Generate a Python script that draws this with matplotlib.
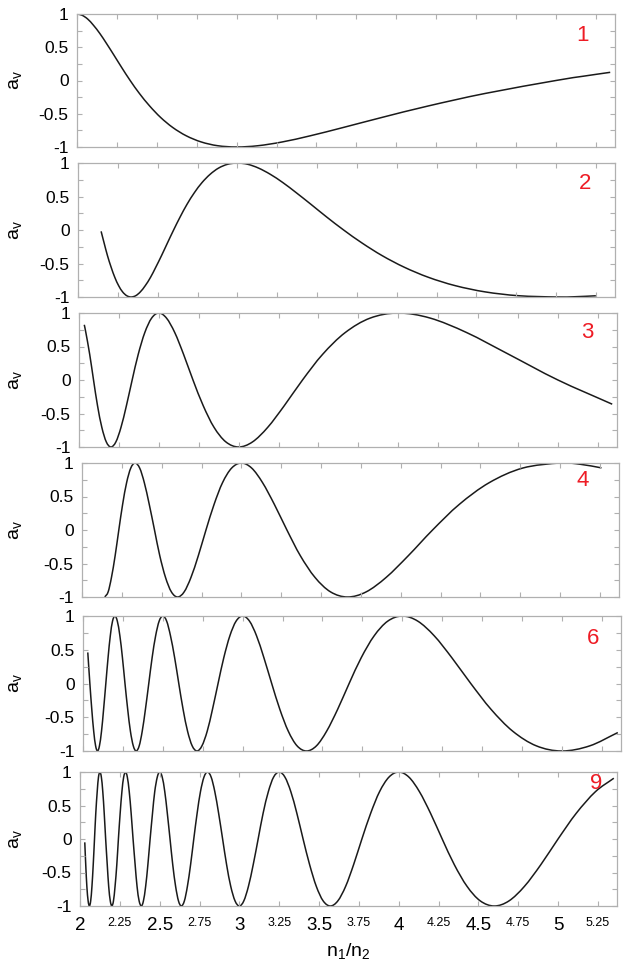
import matplotlib
matplotlib.use("Agg")
import matplotlib.pyplot as plt
from matplotlib.path import Path
from matplotlib.patches import PathPatch

plt.rcParams['font.family'] = ['Liberation Sans', 'DejaVu Sans']
plt.rcParams['mathtext.default'] = 'regular'

# ---------------- data ----------------
PANEL_LABELS = ['1', '2', '3', '4', '6', '9']

P1_X = [2.000, 2.032, 2.067, 2.103, 2.143, 2.185, 2.231, 2.280, 2.333, 2.391,
        2.455, 2.524, 2.600, 2.684, 2.778, 2.882, 3.000, 3.133, 3.286, 3.462,
        3.667, 3.909, 4.200, 4.556, 5.000, 5.170, 5.340]
P1_Y = [1.000, 0.981, 0.924, 0.831, 0.707, 0.556, 0.383, 0.195, 0.000, -0.195,
        -0.383, -0.556, -0.707, -0.831, -0.924, -0.981, -1.000, -0.981, -0.924, -0.831,
        -0.707, -0.556, -0.383, -0.195, 0.000, 0.064, 0.123]

P2_X = [2.145, 2.164, 2.185, 2.208, 2.231, 2.255, 2.280, 2.306, 2.333, 2.362,
        2.391, 2.422, 2.455, 2.488, 2.524, 2.561, 2.600, 2.641, 2.684, 2.730,
        2.778, 2.829, 2.882, 2.939, 3.000, 3.065, 3.133, 3.207, 3.286, 3.370,
        3.462, 3.560, 3.667, 3.783, 3.909, 4.048, 4.200, 4.368, 4.556, 4.765,
        5.000, 5.120, 5.250]
P2_Y = [-0.020, -0.195, -0.383, -0.556, -0.707, -0.831, -0.924, -0.981, -1.000, -0.981,
        -0.924, -0.831, -0.707, -0.556, -0.383, -0.195, 0.000, 0.195, 0.383, 0.556,
        0.707, 0.831, 0.924, 0.981, 1.000, 0.981, 0.924, 0.831, 0.707, 0.556,
        0.383, 0.195, 0.000, -0.195, -0.383, -0.556, -0.707, -0.831, -0.924, -0.981,
        -1.000, -0.996, -0.982]

P3_X = [2.033, 2.043, 2.067, 2.091, 2.116, 2.143, 2.171, 2.200,
        2.231, 2.263, 2.297, 2.333, 2.371, 2.412, 2.455, 2.500,
        2.548, 2.600, 2.655, 2.714, 2.778, 2.846, 2.920, 3.000,
        3.087, 3.182, 3.286, 3.400, 3.526, 3.667, 3.824, 4.000,
        4.200, 4.429, 4.692, 5.000, 5.340]
P3_Y = [0.824, 0.707, 0.383, 0.000, -0.383, -0.707, -0.924, -1.000,
        -0.924, -0.707, -0.383, 0.000, 0.383, 0.707, 0.924, 1.000,
        0.924, 0.707, 0.383, 0.000, -0.383, -0.707, -0.924, -1.000,
        -0.924, -0.707, -0.383, 0.000, 0.383, 0.707, 0.924, 1.000,
        0.924, 0.707, 0.383, 0.000, -0.361]

P4_X = [2.143, 2.164, 2.185, 2.208, 2.231, 2.255, 2.280, 2.306,
        2.333, 2.362, 2.391, 2.422, 2.455, 2.488, 2.524, 2.561,
        2.600, 2.641, 2.684, 2.730, 2.778, 2.829, 2.882, 2.939,
        3.000, 3.065, 3.133, 3.207, 3.286, 3.370, 3.462, 3.560,
        3.667, 3.783, 3.909, 4.048, 4.200, 4.368, 4.556, 4.765,
        5.000, 5.130, 5.260]
P4_Y = [-1.000, -0.924, -0.707, -0.383, 0.000, 0.383, 0.707, 0.924,
        1.000, 0.924, 0.707, 0.383, 0.000, -0.383, -0.707, -0.924,
        -1.000, -0.924, -0.707, -0.383, 0.000, 0.383, 0.707, 0.924,
        1.000, 0.924, 0.707, 0.383, 0.000, -0.383, -0.707, -0.924,
        -1.000, -0.924, -0.707, -0.383, 0.000, 0.383, 0.707, 0.924,
        1.000, 0.980, 0.927]

P6_X = [2.030,
        2.043, 2.055, 2.067, 2.079, 2.091, 2.103, 2.116, 2.129, 2.143, 2.157, 2.171, 2.185, 2.200,
        2.215, 2.231, 2.247, 2.263, 2.280, 2.297, 2.315, 2.333,
        2.352, 2.371, 2.391, 2.412, 2.433, 2.455, 2.477, 2.500,
        2.524, 2.548, 2.574, 2.600, 2.627, 2.655, 2.684, 2.714,
        2.745, 2.778, 2.811, 2.846, 2.882, 2.920, 2.959, 3.000,
        3.043, 3.087, 3.133, 3.182, 3.233, 3.286, 3.341, 3.400,
        3.462, 3.526, 3.595, 3.667, 3.743, 3.824, 3.909, 4.000,
        4.097, 4.200, 4.310, 4.429, 4.556, 4.692, 4.840, 5.000,
        5.174, 5.350]
P6_Y = [0.460,
        0.000, -0.383, -0.707, -0.924, -1.000, -0.924, -0.707, -0.383, 0.000, 0.383, 0.707, 0.924, 1.000,
        0.924, 0.707, 0.383, 0.000, -0.383, -0.707, -0.924, -1.000,
        -0.924, -0.707, -0.383, 0.000, 0.383, 0.707, 0.924, 1.000,
        0.924, 0.707, 0.383, 0.000, -0.383, -0.707, -0.924, -1.000,
        -0.924, -0.707, -0.383, 0.000, 0.383, 0.707, 0.924, 1.000,
        0.924, 0.707, 0.383, 0.000, -0.383, -0.707, -0.924, -1.000,
        -0.924, -0.707, -0.383, 0.000, 0.383, 0.707, 0.924, 1.000,
        0.924, 0.707, 0.383, 0.000, -0.383, -0.707, -0.924, -1.000,
        -0.924, -0.727]

P9_X = [2.030,
        2.036, 2.043, 2.051, 2.059, 2.067, 2.075, 2.083, 2.091, 2.099, 2.108, 2.116, 2.125,
        2.134, 2.143, 2.152, 2.161, 2.171, 2.180, 2.190, 2.200,
        2.210, 2.220, 2.231, 2.241, 2.252, 2.263, 2.274, 2.286,
        2.297, 2.309, 2.321, 2.333, 2.346, 2.358, 2.371, 2.385,
        2.398, 2.412, 2.426, 2.440, 2.455, 2.469, 2.485, 2.500,
        2.516, 2.532, 2.548, 2.565, 2.582, 2.600, 2.618, 2.636,
        2.655, 2.674, 2.694, 2.714, 2.735, 2.756, 2.778, 2.800,
        2.823, 2.846, 2.870, 2.895, 2.920, 2.946, 2.973, 3.000,
        3.028, 3.057, 3.087, 3.118, 3.149, 3.182, 3.215, 3.250,
        3.286, 3.323, 3.361, 3.400, 3.441, 3.483, 3.526, 3.571,
        3.618, 3.667, 3.717, 3.769, 3.824, 3.880, 3.939, 4.000,
        4.064, 4.130, 4.200, 4.273, 4.349, 4.429, 4.512, 4.600,
        4.692, 4.789, 4.892, 5.000, 5.114, 5.235,
        5.350]
P9_Y = [-0.050,
        -0.383, -0.707, -0.924, -1.000, -0.924, -0.707, -0.383, 0.000, 0.383, 0.707, 0.924, 1.000,
        0.924, 0.707, 0.383, 0.000, -0.383, -0.707, -0.924, -1.000,
        -0.924, -0.707, -0.383, 0.000, 0.383, 0.707, 0.924, 1.000,
        0.924, 0.707, 0.383, 0.000, -0.383, -0.707, -0.924, -1.000,
        -0.924, -0.707, -0.383, 0.000, 0.383, 0.707, 0.924, 1.000,
        0.924, 0.707, 0.383, 0.000, -0.383, -0.707, -0.924, -1.000,
        -0.924, -0.707, -0.383, 0.000, 0.383, 0.707, 0.924, 1.000,
        0.924, 0.707, 0.383, 0.000, -0.383, -0.707, -0.924, -1.000,
        -0.924, -0.707, -0.383, 0.000, 0.383, 0.707, 0.924, 1.000,
        0.924, 0.707, 0.383, 0.000, -0.383, -0.707, -0.924, -1.000,
        -0.924, -0.707, -0.383, 0.000, 0.383, 0.707, 0.924, 1.000,
        0.924, 0.707, 0.383, 0.000, -0.383, -0.707, -0.924, -1.000,
        -0.924, -0.707, -0.383, 0.000, 0.383, 0.707,
        0.907]

SERIES_X = [P1_X, P2_X, P3_X, P4_X, P6_X, P9_X]
SERIES_Y = [P1_Y, P2_Y, P3_Y, P4_Y, P6_Y, P9_Y]

X_TICK_LABELS = ['2', '2.25', '2.5', '2.75', '3', '3.25', '3.5', '3.75',
                 '4', '4.25', '4.5', '4.75', '5', '5.25']
Y_TICK_LABELS = ['-1', '-0.5', '0', '0.5', '1']
Y_MINOR = [-0.75, -0.25, 0.25, 0.75]

# ---------------- layout ----------------
W, H = 623, 965
# (left, right, top, bottom) in pixels for each panel
BOXES = [(77, 615, 14, 147), (78, 615, 163, 297), (79, 617, 313, 447),
         (82, 619, 463, 597), (83, 621, 616, 751), (80, 617, 772, 906)]
# red label position in axes fraction
LABEL_POS = [(0.94, 0.84), (0.944, 0.85), (0.944, 0.858),
             (0.933, 0.873), (0.948, 0.837), (0.961, 0.915)]
XMAX = 5.37
FRAME = '#b0b0b0'
RED = '#ee1c25'


def smooth_curve_path(xs, ys):
    """Smooth (Catmull-Rom style) Bezier path through the given points."""
    n = len(xs)
    tx, ty = [], []
    for i in range(n):
        a = max(i - 1, 0)
        b = min(i + 1, n - 1)
        f = 0.5 if (i > 0 and i < n - 1) else 1.0
        tx.append((xs[b] - xs[a]) * f)
        ty.append((ys[b] - ys[a]) * f)
    verts = [(xs[0], ys[0])]
    codes = [Path.MOVETO]
    for i in range(n - 1):
        verts.append((xs[i] + tx[i] / 3, ys[i] + ty[i] / 3))
        verts.append((xs[i + 1] - tx[i + 1] / 3, ys[i + 1] - ty[i + 1] / 3))
        verts.append((xs[i + 1], ys[i + 1]))
        codes += [Path.CURVE4] * 3
    return Path(verts, codes)


fig = plt.figure(figsize=(W / 100, H / 100), dpi=100)

for i, (l, r, t, b) in enumerate(BOXES):
    ax = fig.add_axes([l / W, 1 - b / H, (r - l) / W, (b - t) / H])
    curve = PathPatch(smooth_curve_path(SERIES_X[i], SERIES_Y[i]),
                      facecolor='none', edgecolor='#1a1a1a', lw=1.1,
                      transform=ax.transData)
    ax.add_patch(curve)
    ax.set_xlim(2, XMAX)
    ax.set_ylim(-1, 1)
    for s in ax.spines.values():
        s.set_color(FRAME)
        s.set_linewidth(0.9)
    ax.set_xticks([float(v) for v in X_TICK_LABELS])
    ax.set_yticks([float(v) for v in Y_TICK_LABELS])
    ax.set_yticklabels(Y_TICK_LABELS)
    ax.set_yticks(Y_MINOR, minor=True)
    ax.tick_params(which='both', direction='in', length=3.5, width=0.8,
                   color=FRAME, top=True, right=True, labelsize=12.5, pad=6)
    ax.set_ylabel('a$_v$', fontsize=14)
    ax.yaxis.set_label_coords((24 - l) / (r - l), 0.5)
    if i < len(BOXES) - 1:
        ax.tick_params(labelbottom=False)
    else:
        ax.set_xticklabels(X_TICK_LABELS)
        ax.tick_params(axis='x', pad=8)
        for lab in ax.get_xticklabels():
            if len(lab.get_text()) > 3:
                lab.set_fontsize(9)
            else:
                lab.set_fontsize(13.5)
        ax.set_xlabel('n$_1$/n$_2$', fontsize=14, labelpad=5)
    ax.text(LABEL_POS[i][0], LABEL_POS[i][1], PANEL_LABELS[i], transform=ax.transAxes,
            color=RED, fontsize=16, ha='center', va='center')

fig.savefig('out.png', dpi=100)
